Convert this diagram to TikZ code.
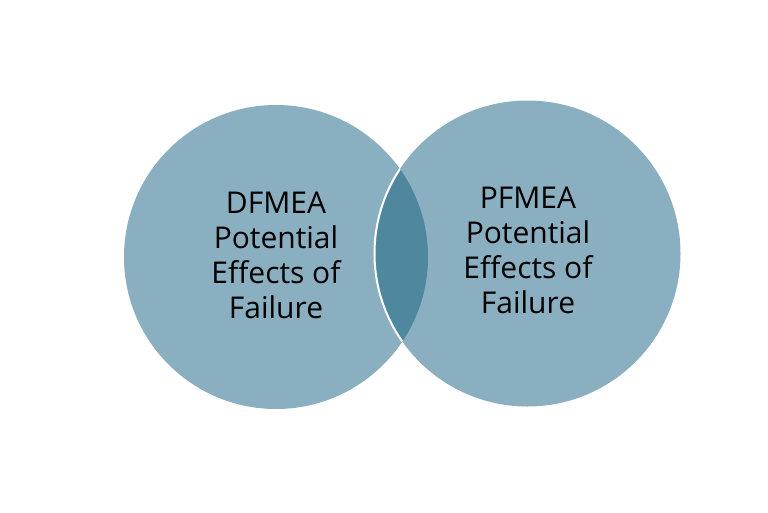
\documentclass[tikz,border=0pt]{standalone}
\usepackage{fontspec}
\setmainfont{Open Sans}
\definecolor{light}{HTML}{8AAFC0}
\definecolor{dark}{HTML}{4F879F}
\begin{document}
\begin{tikzpicture}[x=1pt,y=-1pt,
  lbl/.style={align=center,font=\fontsize{30}{35}\selectfont,text=black}]
\useasboundingbox[fill=white] (0,0) rectangle (768,512);
\coordinate (cl) at (276,257);
\coordinate (cr) at (527.5,253.5);
\fill[light] (cl) circle[radius=152];
\fill[light] (cr) circle[radius=153];
\begin{scope}
  \clip (cl) circle[radius=152];
  \fill[dark] (cr) circle[radius=153];
\end{scope}
\begin{scope}
  \clip (cl) circle[radius=152];
  \draw[white,line width=2] (cr) circle[radius=153];
\end{scope}
\node[lbl] (tl) at (276,255) {DFMEA\\Potential\\Effects of\\Failure};
\node[lbl] (tr) at (528,250) {PFMEA\\Potential\\Effects of\\Failure};
\end{tikzpicture}
\end{document}
